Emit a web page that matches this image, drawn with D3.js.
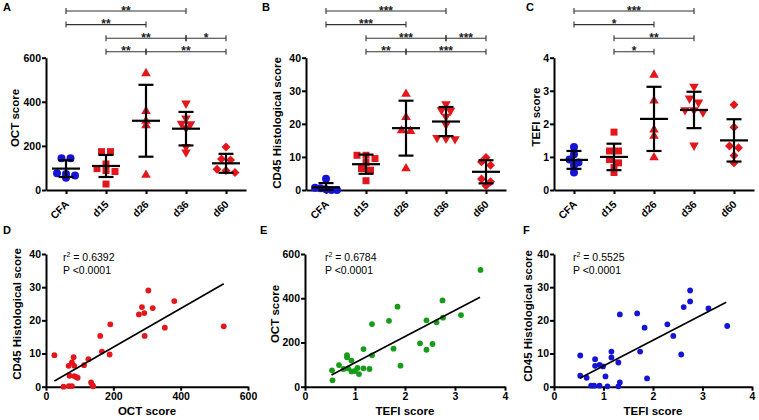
<!DOCTYPE html>
<html><head><meta charset="utf-8">
<script src="https://cdn.jsdelivr.net/npm/d3@7"></script>
<style>
body{margin:0;background:#fff}
svg{display:block}
text{font-family:Arial,"Liberation Sans",sans-serif}
</style></head><body>
<svg id="c" width="759" height="420"></svg>
<script>
// ---------------- DATA ----------------
const groups = ["CFA","d15","d26","d36","d60"];

const octByGroup = [
  [144,144,76,73,66,56],
  [174,174,118,97,88,84,27],
  [529,357,313,293,68],
  [393,325,302,299,281,196,171],
  [195,141,136,94,88,79]
];
const octMean = [97,109,314,278,121];
const octSD = [38,50,163,76,43];

const cd45ByGroup = [
  [3.4,0.7,0.5,0.2,0,0],
  [10.5,10.5,9.5,8.3,6.5,6.0,2.8],
  [29,22,18,17.8,6.5],
  [26,24.2,24,22.2,19.8,15.8,15.6,15.4],
  [9.8,8.5,7.5,3.3,2.5,1.3]
];
const cd45Mean = [0.8,7.8,18.7,20.7,5.5];
const cd45SD = [1.3,2.9,8.3,4.4,3.5];

const tefiByGroup = [
  [1.3,1.08,0.92,0.83,0.75,0.53],
  [1.75,1.18,1.18,0.92,0.82,0.68,0.53],
  [3.48,2.7,1.82,1.63,0.98],
  [3.13,2.77,2.65,2.42,2.42,2.35,1.35],
  [2.58,1.9,1.33,1.28,1.04,0.82]
];
const tefiMean = [0.91,1.0,2.15,2.42,1.5];
const tefiSD = [0.27,0.4,0.97,0.55,0.64];

// significance brackets: [fromGroup, toGroup, label, row]
const sigA = [[0,3,"**",0],[0,2,"**",1],[1,3,"**",2],[3,4,"*",2],[1,2,"**",3],[2,4,"**",3]];
const sigB = [[0,3,"***",0],[0,2,"***",1],[1,3,"***",2],[3,4,"***",2],[1,2,"**",3],[2,4,"***",3]];
const sigC = [[0,3,"***",0],[0,2,"*",1],[1,3,"**",2],[1,2,"*",3]];

const ticksOct = [0,200,400,600];
const ticksCd45 = [0,10,20,30,40];
const ticksTefi = [0,1,2,3,4];

// D: OCT vs CD45
const dOct  = [25,52,68,77,67,77,82,84,70,84,94,90,113,126,134,138,140,161,166,189,191,276,285,292,293,304,317,353,381,528];
const dCd45 = [9.5,0,0.2,0.2,6.3,7.3,8.9,6.3,3.3,3.2,2.7,2.9,6.5,8.3,1.3,0.5,0.1,15.3,10.6,9.7,18.8,21.8,24,22.2,15.3,29,23.7,17.8,25.8,18.2];
const dFit = {intercept:0.24, slope:0.0583, from:25, to:528, r2:"0.6392", p:"P <0.0001"};

// E: TEFI vs OCT
const eTefi = [0.54,0.55,0.68,0.77,0.84,0.84,0.86,0.93,0.93,1.0,1.05,1.08,1.17,1.17,1.29,1.34,1.34,1.68,1.77,1.85,1.91,2.3,2.43,2.43,2.55,2.63,2.75,2.76,3.12,3.51];
const eOct  = [74,29,98,80,143,133,83,118,69,71,85,57,170,83,80,142,283,298,172,362,95,196,300,167,193,291,390,312,324,528];
const eFit = {intercept:-9.6, slope:118.2, from:0.53, to:3.5, r2:"0.6784", p:"P <0.0001"};

// F: TEFI vs CD45
const fTefi = [0.53,0.53,0.66,0.75,0.81,0.92,0.83,0.83,0.92,0.99,1.04,1.08,1.16,1.16,1.30,1.30,1.33,1.33,1.68,1.74,1.83,1.88,2.29,2.41,2.57,2.62,2.75,2.75,3.12,3.5];
const fCd45 = [9.4,3.3,2.7,0.3,0.3,0.3,8.3,6.3,6.6,6.1,3.1,0.1,10.6,8.8,7.3,0.1,1.3,21.8,22.1,10.6,17.8,2.5,18.8,15.3,9.7,24,25.7,29,23.6,18.3];
const fFit = {intercept:-1.5, slope:7.74, from:0.52, to:3.48, r2:"0.5525", p:"P <0.0001"};

// ---------------- STYLE / LAYOUT ----------------
const BLUE = "#1414d4", RED = "#e3161c", GREEN = "#169c18";
const groupColor = [BLUE, RED, RED, RED, RED];
const symbolFor = [
  {type:d3.symbolCircle, size:50, rot:0},
  {type:d3.symbolSquare, size:49, rot:0},
  {type:d3.symbolTriangle, size:40, rot:0},
  {type:d3.symbolTriangle, size:40, rot:180},
  {type:d3.symbolSquare, size:40, rot:45}
];
const svg = d3.select("#c");
const fmt = d3.format("~g");

function styleAxis(g){
  g.select(".domain").attr("stroke","#000").attr("stroke-width",2);
  g.selectAll(".tick line").attr("stroke","#000").attr("stroke-width",2);
  g.selectAll(".tick text").attr("font-size",10.5).attr("font-weight","bold").attr("fill","#000")
    .attr("font-family","Arial, 'Liberation Sans', sans-serif");
}

function rowOffsets(vals, y){
  const idx = vals.map((v,i)=>i).sort((a,b)=>vals[b]-vals[a]);
  const rows = []; let cur = null;
  idx.forEach(i=>{
    const py = y(vals[i]);
    if (cur && py - cur.start < 4) cur.items.push(i);
    else { cur = {start:py, items:[i]}; rows.push(cur); }
  });
  const off = new Array(vals.length).fill(0);
  rows.forEach(r=>{
    const n = r.items.length;
    const sp = n>1 ? Math.min(9, 22/(n-1)) : 0;
    r.items.forEach((k,j)=>{ off[k] = (j-(n-1)/2)*sp; });
  });
  return off;
}

function topPanel(cfg){
  const g = svg.append("g");
  const x = d3.scalePoint().domain(groups).range([cfg.x0, cfg.x1]).padding(0.5);
  const y = d3.scaleLinear().domain([cfg.ticks[0], cfg.ticks[cfg.ticks.length-1]]).range([190, 57.7]);

  const ya = g.append("g").attr("transform",`translate(${cfg.x0},0)`)
    .call(d3.axisLeft(y).tickValues(cfg.ticks).tickFormat(fmt).tickSize(4).tickPadding(1).tickSizeOuter(0));
  styleAxis(ya);
  const xa = g.append("g").attr("transform","translate(0,190)")
    .call(d3.axisBottom(x).tickSize(4).tickSizeOuter(0));
  styleAxis(xa);
  xa.selectAll(".tick text").attr("x",0).attr("y",0).attr("dy",0)
    .attr("transform","translate(3,15) rotate(-45)").style("text-anchor","end");

  cfg.values.forEach((vals, gi)=>{
    const off = rowOffsets(vals, y);
    const sym = symbolFor[gi];
    g.selectAll(null).data(vals).join("path")
      .attr("d", d3.symbol().type(sym.type).size(sym.size))
      .attr("transform",(d,i)=>`translate(${x(groups[gi])+off[i]},${y(d)}) rotate(${sym.rot})`)
      .attr("fill", groupColor[gi]);
  });

  groups.forEach((gname, gi)=>{
    const cx = x(gname), m = cfg.mean[gi], s = cfg.sd[gi];
    const lo = Math.max(y.domain()[0], m - s), hi = m + s;
    const line = (x1,y1,x2,y2)=> g.append("line").attr("x1",x1).attr("y1",y1).attr("x2",x2).attr("y2",y2)
      .attr("stroke","#000").attr("stroke-width",2.2);
    line(cx, y(lo), cx, y(hi));
    line(cx-14, y(m), cx+14, y(m));
    line(cx-7.5, y(hi), cx+7.5, y(hi));
    line(cx-7.5, y(lo), cx+7.5, y(lo));
  });

  cfg.sig.forEach(([a,b,lab,row])=>{
    const yy = 11 + row*13.6;
    const xa1 = x(groups[a]), xb1 = x(groups[b]);
    g.append("line").attr("x1",xa1).attr("x2",xb1).attr("y1",yy).attr("y2",yy).attr("stroke","#333").attr("stroke-width",1.1);
    [xa1,xb1].forEach(xx=> g.append("line").attr("x1",xx).attr("x2",xx).attr("y1",yy-3).attr("y2",yy+3).attr("stroke","#333").attr("stroke-width",1.1));
    g.append("text").attr("x",(xa1+xb1)/2).attr("y",yy+3.5).attr("text-anchor","middle")
      .attr("font-size",12).attr("font-weight","bold").attr("fill","#222").text(lab);
  });

  g.append("text").attr("transform",`translate(${cfg.tx},${cfg.ty}) rotate(-90)`)
    .attr("text-anchor","middle").attr("dy","0.35em").attr("font-size",11.5).attr("font-weight","bold").text(cfg.title);
  g.append("text").attr("x",cfg.lx).attr("y",11).attr("font-size",11).attr("font-weight","bold").text(cfg.label);
}

topPanel({x0:46, x1:246, ticks:ticksOct, values:octByGroup, mean:octMean, sd:octSD, sig:sigA, title:"OCT score", tx:15, ty:118, label:"A", lx:3});
topPanel({x0:306, x1:506, ticks:ticksCd45, values:cd45ByGroup, mean:cd45Mean, sd:cd45SD, sig:sigB, title:"CD45 Histological score", tx:277, ty:123, label:"B", lx:262});
topPanel({x0:554, x1:754, ticks:ticksTefi, values:tefiByGroup, mean:tefiMean, sd:tefiSD, sig:sigC, title:"TEFI score", tx:536, ty:117, label:"C", lx:526});

function scatterPanel(cfg){
  const g = svg.append("g");
  const x = d3.scaleLinear().domain([cfg.xt[0], cfg.xt[cfg.xt.length-1]]).range([cfg.x0, cfg.x1]);
  const y = d3.scaleLinear().domain([cfg.yt[0], cfg.yt[cfg.yt.length-1]]).range([386.7, 254]);
  const ya = g.append("g").attr("transform",`translate(${cfg.x0},0)`)
    .call(d3.axisLeft(y).tickValues(cfg.yt).tickFormat(fmt).tickSize(4).tickPadding(1).tickSizeOuter(0));
  styleAxis(ya);
  const xa = g.append("g").attr("transform","translate(0,386.7)")
    .call(d3.axisBottom(x).tickValues(cfg.xt).tickFormat(fmt).tickSize(4).tickPadding(2).tickSizeOuter(0));
  styleAxis(xa);

  g.selectAll(null).data(cfg.xs).join("circle")
    .attr("cx",(d)=>x(d)).attr("cy",(d,i)=>y(cfg.ys[i])).attr("r",2.9).attr("fill",cfg.color);

  const f = cfg.fit;
  g.append("line").attr("x1",x(f.from)).attr("y1",y(f.intercept+f.slope*f.from))
    .attr("x2",x(f.to)).attr("y2",y(f.intercept+f.slope*f.to)).attr("stroke","#000").attr("stroke-width",1.6);

  const t = g.append("text").attr("x",cfg.ax).attr("y",261).attr("font-size",10.5);
  t.append("tspan").text("r");
  t.append("tspan").attr("font-size",7).attr("dy",-4).text("2");
  t.append("tspan").attr("dy",4).text(" = " + f.r2);
  g.append("text").attr("x",cfg.ax).attr("y",274).attr("font-size",10.5).text(f.p);

  g.append("text").attr("transform",`translate(${cfg.tx},${cfg.ty}) rotate(-90)`)
    .attr("text-anchor","middle").attr("dy","0.35em").attr("font-size",11.5).attr("font-weight","bold").text(cfg.ytitle);
  g.append("text").attr("x",(cfg.x0+cfg.x1)/2).attr("y",415).attr("text-anchor","middle")
    .attr("font-size",11.5).attr("font-weight","bold").text(cfg.xtitle);
  g.append("text").attr("x",cfg.lx).attr("y",234).attr("font-size",11).attr("font-weight","bold").text(cfg.label);
}

scatterPanel({x0:46, x1:248, xt:ticksOct, yt:ticksCd45, xs:dOct, ys:dCd45, fit:dFit, color:RED,
  ax:63, ytitle:"CD45 Histological score", tx:17, ty:314, xtitle:"OCT score", label:"D", lx:3});
scatterPanel({x0:305, x1:505, xt:ticksTefi, yt:ticksOct, xs:eTefi, ys:eOct, fit:eFit, color:GREEN,
  ax:325, ytitle:"OCT score", tx:275, ty:314, xtitle:"TEFI score", label:"E", lx:260});
scatterPanel({x0:554, x1:752, xt:ticksTefi, yt:ticksCd45, xs:fTefi, ys:fCd45, fit:fFit, color:BLUE,
  ax:573, ytitle:"CD45 Histological score", tx:528, ty:316, xtitle:"TEFI score", label:"F", lx:523});
</script>
</body></html>
